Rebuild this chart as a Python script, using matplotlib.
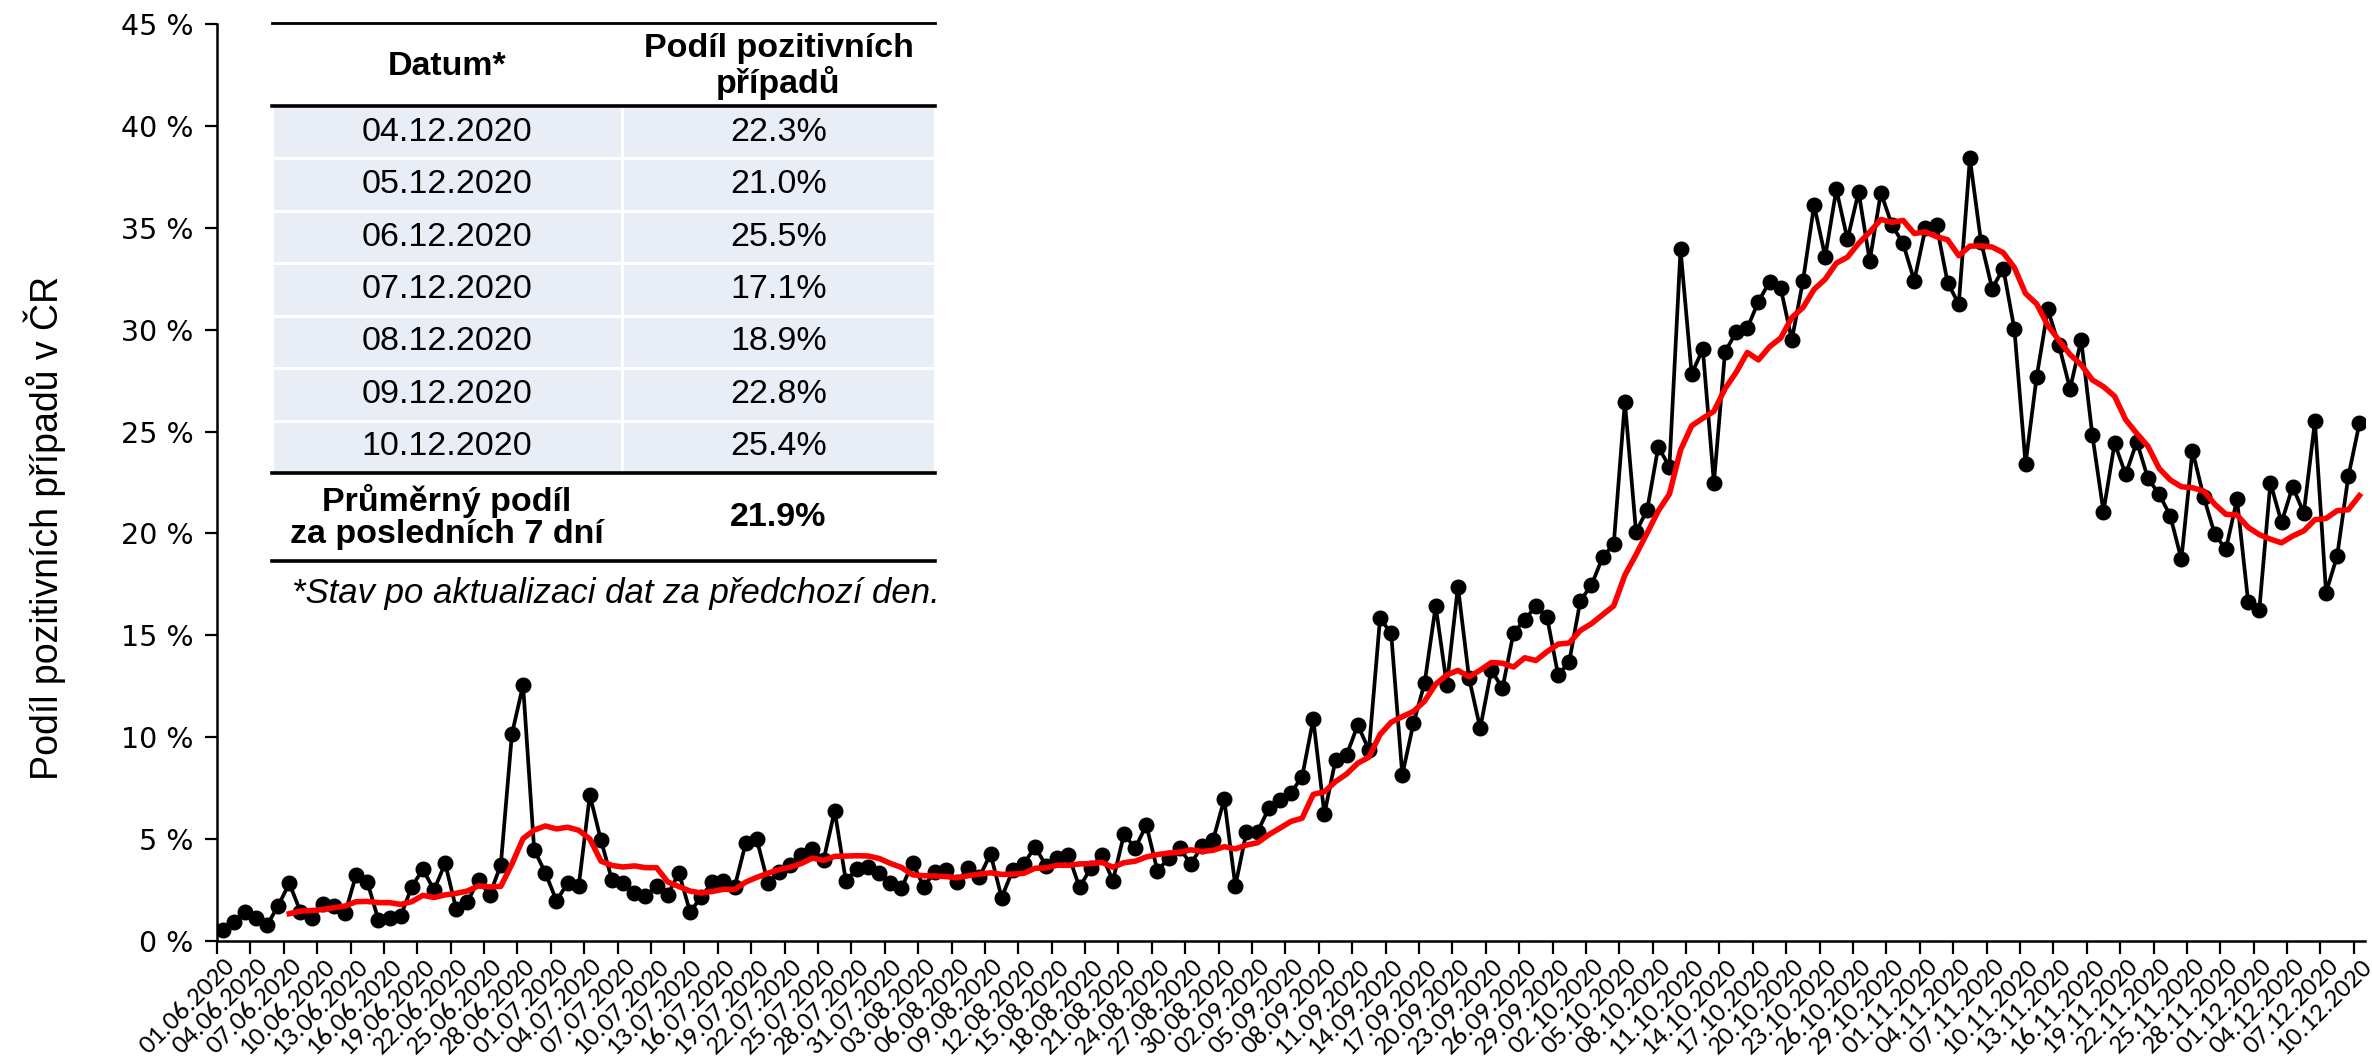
import numpy as np
import pandas as pd
import matplotlib
matplotlib.use("Agg")
import matplotlib.pyplot as plt
from matplotlib.patches import Rectangle

# ---------------- data ----------------
values = [
    0.54, 0.95, 1.44, 1.11, 0.78, 1.73, 2.83, 1.44, 1.11, 1.82,
    1.72, 1.35, 3.24, 2.91, 1.03, 1.11, 1.21, 2.66, 3.52, 2.50,
    3.81, 1.55, 1.93, 2.99, 2.26, 3.73, 10.16, 12.56, 4.47, 3.35,
    1.98, 2.83, 2.70, 7.16, 4.94, 2.98, 2.83, 2.37, 2.21, 2.70,
    2.26, 3.35, 1.44, 2.14, 2.91, 2.96, 2.63, 4.79, 4.99, 2.86,
    3.40, 3.73, 4.22, 4.50, 3.97, 6.39, 2.96, 3.52, 3.65, 3.35,
    2.83, 2.58, 3.84, 2.66, 3.40, 3.48, 2.91, 3.57, 3.12, 4.28,
    2.13, 3.48, 3.78, 4.63, 3.68, 4.06, 4.22, 2.63, 3.57, 4.22,
    2.96, 5.25, 4.55, 5.69, 3.45, 4.06, 4.55, 3.78, 4.66, 4.96,
    6.95, 2.70, 5.36, 5.36, 6.51, 6.92, 7.28, 8.06, 10.88, 6.23,
    8.88, 9.13, 10.60, 9.37, 15.83, 15.10, 8.15, 10.68, 12.64, 16.44,
    12.56, 17.39, 12.89, 10.44, 13.30, 12.40, 15.13, 15.75, 16.44, 15.91,
    13.05, 13.70, 16.70, 17.47, 18.83, 19.48, 26.46, 20.08, 21.15, 24.25,
    23.27, 33.94, 27.82, 29.05, 22.49, 28.92, 29.87, 30.08, 31.38, 32.35,
    32.04, 29.50, 32.38, 36.11, 33.58, 36.88, 34.43, 36.76, 33.38, 36.72,
    35.13, 34.23, 32.40, 34.97, 35.13, 32.30, 31.26, 38.40, 34.31, 32.02,
    33.00, 30.01, 23.41, 27.69, 30.99, 29.24, 27.10, 29.49, 24.83, 21.07,
    24.42, 22.90, 24.50, 22.70, 21.93, 20.87, 18.73, 24.06, 21.80, 19.97,
    19.22, 21.67, 16.65, 16.24, 22.49, 20.54, 22.3, 21.0, 25.5, 17.1,
    18.9, 22.8, 25.4,
]

tick_labels = [
    "01.06.2020", "04.06.2020", "07.06.2020", "10.06.2020", "13.06.2020",
    "16.06.2020", "19.06.2020", "22.06.2020", "25.06.2020", "28.06.2020",
    "01.07.2020", "04.07.2020", "07.07.2020", "10.07.2020", "13.07.2020",
    "16.07.2020", "19.07.2020", "22.07.2020", "25.07.2020", "28.07.2020",
    "31.07.2020", "03.08.2020", "06.08.2020", "09.08.2020", "12.08.2020",
    "15.08.2020", "18.08.2020", "21.08.2020", "24.08.2020", "27.08.2020",
    "30.08.2020", "02.09.2020", "05.09.2020", "08.09.2020", "11.09.2020",
    "14.09.2020", "17.09.2020", "20.09.2020", "23.09.2020", "26.09.2020",
    "29.09.2020", "02.10.2020", "05.10.2020", "08.10.2020", "11.10.2020",
    "14.10.2020", "17.10.2020", "20.10.2020", "23.10.2020", "26.10.2020",
    "29.10.2020", "01.11.2020", "04.11.2020", "07.11.2020", "10.11.2020",
    "13.11.2020", "16.11.2020", "19.11.2020", "22.11.2020", "25.11.2020",
    "28.11.2020", "01.12.2020", "04.12.2020", "07.12.2020", "10.12.2020",
]

y_ticks = [0, 5, 10, 15, 20, 25, 30, 35, 40, 45]

table_header = ["Datum*", "Podíl pozitivních\npřípadů"]
table_dates = ["04.12.2020", "05.12.2020", "06.12.2020", "07.12.2020",
               "08.12.2020", "09.12.2020", "10.12.2020"]
table_values = ["22.3%", "21.0%", "25.5%", "17.1%", "18.9%", "22.8%", "25.4%"]
table_avg_label = "Průměrný podíl\nza posledních 7 dní"
table_avg_value = "21.9%"
footnote = "*Stav po aktualizaci dat za předchozí den."
y_title = "Podíl pozitivních případů v ČR"

# ---------------- figure ----------------
W, H = 2372, 1063
fig = plt.figure(figsize=(W / 100, H / 100), dpi=100)
fig.patch.set_facecolor("white")

L, R, T, B = 217, 2365, 24, 941
ax = fig.add_axes([L / W, 1 - B / H, (R - L) / W, (B - T) / H])

s = pd.Series(values)
ma = s.rolling(7).mean()
x = np.arange(len(values))

ax.plot(x, s.values, color="black", lw=2.7, marker="o", ms=10.5, zorder=3,
        solid_joinstyle="round")
ax.plot(x, ma.values, color="#FF0000", lw=4.0, zorder=4)

ax.set_xlim(-0.5, len(values) - 0.5)
ax.set_ylim(0, 45)

# tick marks at category boundaries, labels at category centres
ax.set_xticks(np.arange(-0.5, len(values) - 0.5, 3))
ax.set_xticklabels([])
ax.set_xticks(np.arange(0, len(values), 3), minor=True)
ax.set_xticklabels(tick_labels, minor=True, rotation=45, ha="right",
                   va="top", rotation_mode="anchor",
                   family=["Carlito", "Lato", "DejaVu Sans"], fontsize=19.5)
ax.tick_params(axis="x", which="major", direction="out", length=9, width=1.6)
ax.tick_params(axis="x", which="minor", length=0, pad=9)

ax.set_yticks(y_ticks)
ax.set_yticklabels([f"{v} %" for v in y_ticks], family="DejaVu Sans",
                   fontsize=20.5)
ax.tick_params(axis="y", direction="out", length=9, width=1.6, pad=8)

for sp in ["top", "right"]:
    ax.spines[sp].set_visible(False)
for sp in ["left", "bottom"]:
    ax.spines[sp].set_linewidth(1.8)

fig.text(45 / W, 1 - 528 / H, y_title, rotation=90, ha="center", va="center",
         fontsize=27, family=["Liberation Sans Narrow", "Liberation Sans"])

# ---------------- table overlay ----------------
tab = fig.add_axes([0, 0, 1, 1], zorder=10)
tab.set_xlim(0, W)
tab.set_ylim(H, 0)
tab.axis("off")

tx0, tx1, tdiv = 272, 935, 622
t_top, t_head, t_thick, t_bot = 23, 106, 473, 561
row_h = (t_thick - t_head) / len(table_dates)
fill = "#E9EDF5"
tfont = ["Liberation Sans", "DejaVu Sans"]
tsize = 24.5

tab.add_patch(Rectangle((tx0, t_top), tx1 - tx0, t_bot - t_top,
                        facecolor="white", edgecolor="none", zorder=1))
for r in range(len(table_dates)):
    y0 = t_head + r * row_h
    for (a, b) in [(tx0, tdiv), (tdiv, tx1)]:
        tab.add_patch(Rectangle((a, y0), b - a, row_h, facecolor=fill,
                                edgecolor="white", lw=2.2, zorder=2))
    yc = y0 + row_h / 2
    tab.text((tx0 + tdiv) / 2, yc, table_dates[r], ha="center", va="center",
             fontsize=tsize, family=tfont, zorder=5)
    tab.text((tdiv + tx1) / 2, yc, table_values[r], ha="center", va="center",
             fontsize=tsize, family=tfont, zorder=5)

# header
tab.text((tx0 + tdiv) / 2, (t_top + t_head) / 2 + 2, table_header[0],
         ha="center", va="center", fontsize=tsize, weight="bold",
         family=tfont, zorder=5)
tab.text((tdiv + tx1) / 2, (t_top + t_head) / 2 + 2, table_header[1],
         ha="center", va="center", fontsize=tsize, weight="bold",
         family=tfont, linespacing=1.05, zorder=5)
# average row
tab.text((tx0 + tdiv) / 2, (t_thick + t_bot) / 2, table_avg_label,
         ha="center", va="center", fontsize=tsize, weight="bold",
         family=tfont, linespacing=1.05, zorder=5)
tab.text((tdiv + tx1) / 2, (t_thick + t_bot) / 2, table_avg_value,
         ha="center", va="center", fontsize=tsize, weight="bold",
         family=tfont, zorder=5)

tab.plot([tx0, tx1], [t_top, t_top], color="black", lw=2.0, zorder=6)
for yy in [t_head, t_thick, t_bot]:
    tab.plot([tx0, tx1], [yy, yy], color="black", lw=2.6, zorder=6)

tab.text(292, 593, footnote, ha="left", va="center", fontsize=25,
         style="italic", family=tfont, zorder=5)

fig.savefig("out.png", dpi=100, facecolor="white")
